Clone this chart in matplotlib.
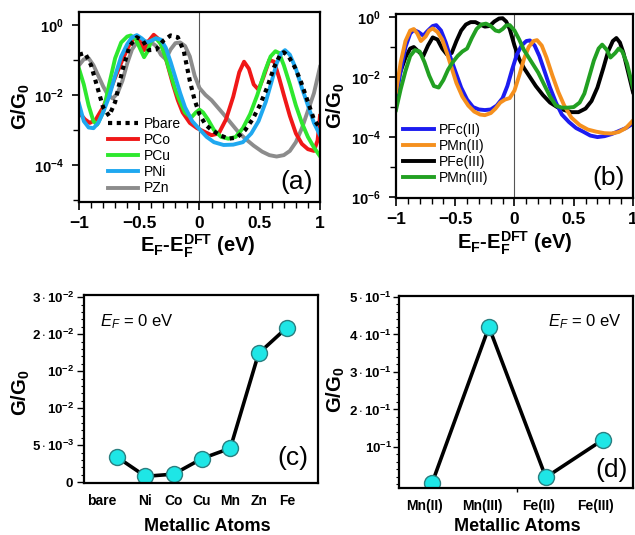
import numpy as np
import matplotlib
matplotlib.use('Agg')
import matplotlib.pyplot as plt
from matplotlib.ticker import FixedLocator, NullFormatter, AutoMinorLocator, MultipleLocator
from matplotlib.transforms import ScaledTranslation

plt.rcParams['font.family'] = ['Liberation Sans', 'DejaVu Sans']
plt.rcParams['mathtext.fontset'] = 'custom'
plt.rcParams['mathtext.rm'] = 'Liberation Sans'
plt.rcParams['mathtext.it'] = 'Liberation Sans:italic'
plt.rcParams['mathtext.bf'] = 'Liberation Sans:bold'

# ---- panel (a): log10(G/G0) vs E_F - E_F^DFT ----
x_bare = [-1.0, -0.95, -0.9, -0.85, -0.8, -0.75, -0.7, -0.64, -0.58, -0.52, -0.47, -0.42, -0.36, -0.3,
          -0.24, -0.18, -0.13, -0.08, -0.04, 0.0, 0.05, 0.1, 0.17, 0.24, 0.31, 0.38, 0.44, 0.5, 0.56,
          0.62, 0.67, 0.7, 0.74, 0.79, 0.84, 0.9, 0.95, 1.0]
lg_bare = [-0.85, -0.8, -1.15, -1.75, -2.35, -2.6, -2.2, -1.3, -0.6, -0.35, -0.45, -0.72, -0.7, -0.45,
           -0.3, -0.35, -0.75, -1.6, -2.15, -2.55, -2.85, -3.0, -3.15, -3.25, -3.22, -3.0, -2.7, -2.3,
           -1.8, -1.2, -0.85, -0.78, -0.9, -1.2, -1.6, -2.2, -2.7, -2.95]

x_co = [-1.0, -0.95, -0.91, -0.86, -0.8, -0.75, -0.7, -0.64, -0.58, -0.53, -0.49, -0.46, -0.42, -0.38,
        -0.34, -0.3, -0.26, -0.22, -0.18, -0.14, -0.08, -0.02, 0.04, 0.1, 0.16, 0.22, 0.28, 0.33, 0.37,
        0.41, 0.45, 0.49, 0.53, 0.58, 0.62, 0.66, 0.7, 0.75, 0.8, 0.85, 0.9, 0.95, 0.98, 1.0]
lg_co = [-2.5, -2.7, -2.8, -2.7, -2.35, -1.95, -1.5, -1.0, -0.55, -0.32, -0.45, -0.72, -0.45, -0.28,
         -0.4, -0.7, -1.2, -1.7, -2.15, -2.5, -2.8, -2.95, -3.05, -3.15, -3.1, -2.7, -2.05, -1.35, -1.05,
         -1.25, -1.7, -1.85, -1.5, -1.0, -1.05, -1.5, -2.0, -2.6, -3.1, -3.4, -3.55, -3.6, -3.3, -2.6]

x_cu = [-1.0, -0.96, -0.92, -0.88, -0.85, -0.8, -0.75, -0.7, -0.65, -0.6, -0.57, -0.53, -0.49, -0.46,
        -0.43, -0.4, -0.36, -0.32, -0.28, -0.24, -0.2, -0.16, -0.12, -0.07, -0.03, 0.0, 0.03, 0.07,
        0.12, 0.18, 0.24, 0.3, 0.36, 0.42, 0.48, 0.54, 0.59, 0.63, 0.66, 0.7, 0.75, 0.8, 0.85, 0.9,
        0.95, 1.0]
lg_cu = [-1.25, -1.7, -2.3, -2.75, -2.85, -2.5, -1.7, -0.95, -0.5, -0.33, -0.3, -0.4, -0.7, -0.92,
         -0.75, -0.45, -0.38, -0.55, -0.95, -1.4, -1.85, -2.2, -2.5, -2.65, -2.5, -2.42, -2.5, -2.7,
         -3.0, -3.2, -3.25, -3.2, -2.95, -2.55, -2.0, -1.35, -0.9, -0.75, -0.8, -1.15, -1.7, -2.3,
         -2.8, -3.2, -3.5, -3.75]

x_ni = [-1.0, -0.96, -0.92, -0.88, -0.84, -0.8, -0.75, -0.7, -0.65, -0.6, -0.56, -0.52, -0.48, -0.44,
        -0.4, -0.36, -0.32, -0.28, -0.24, -0.2, -0.16, -0.12, -0.06, 0.0, 0.06, 0.12, 0.2, 0.28, 0.36,
        0.43, 0.49, 0.55, 0.6, 0.64, 0.68, 0.71, 0.75, 0.8, 0.85, 0.9, 0.95, 1.0]
lg_ni = [-2.25, -2.75, -2.93, -2.95, -2.8, -2.5, -2.05, -1.45, -0.9, -0.55, -0.35, -0.29, -0.38, -0.5,
         -0.45, -0.38, -0.42, -0.65, -1.05, -1.5, -1.95, -2.35, -2.75, -2.98, -3.2, -3.35, -3.43,
         -3.42, -3.35, -3.1, -2.75, -2.2, -1.6, -1.1, -0.8, -0.72, -0.85, -1.25, -1.8, -2.3, -2.8, -3.15]

x_zn = [-1.0, -0.96, -0.92, -0.88, -0.84, -0.8, -0.76, -0.72, -0.68, -0.64, -0.6, -0.56, -0.52, -0.48,
        -0.44, -0.4, -0.36, -0.32, -0.28, -0.24, -0.2, -0.16, -0.12, -0.08, -0.04, 0.0, 0.05, 0.1,
        0.15, 0.2, 0.26, 0.32, 0.38, 0.45, 0.52, 0.58, 0.64, 0.7, 0.75, 0.8, 0.85, 0.9, 0.95, 1.0]
lg_zn = [-1.15, -0.98, -0.95, -1.15, -1.45, -1.75, -2.0, -2.1, -1.95, -1.6, -1.1, -0.7, -0.5, -0.47,
         -0.47, -0.5, -0.6, -0.85, -0.98, -0.7, -0.52, -0.5, -0.6, -0.9, -1.45, -1.8, -2.0, -2.15,
         -2.35, -2.55, -2.8, -3.05, -3.25, -3.45, -3.62, -3.72, -3.76, -3.72, -3.6, -3.35, -2.95,
         -2.45, -1.95, -1.2]

# ---- panel (b) ----
x_fe2 = [-1.0, -0.96, -0.92, -0.88, -0.85, -0.81, -0.77, -0.73, -0.69, -0.66, -0.62, -0.58, -0.54,
         -0.5, -0.45, -0.4, -0.35, -0.3, -0.25, -0.2, -0.15, -0.1, -0.06, -0.02, 0.02, 0.06, 0.1,
         0.13, 0.17, 0.21, 0.26, 0.3, 0.35, 0.4, 0.46, 0.52, 0.58, 0.64, 0.7, 0.76, 0.82, 0.88,
         0.94, 1.0]
lg_fe2 = [-2.7, -1.8, -1.0, -0.55, -0.43, -0.5, -0.62, -0.45, -0.3, -0.27, -0.45, -0.85, -1.35, -1.8,
          -2.35, -2.75, -3.0, -3.08, -3.1, -3.08, -2.95, -2.7, -2.3, -1.75, -1.25, -0.95, -0.8, -0.78,
          -0.95, -1.3, -1.88, -2.35, -2.85, -3.25, -3.5, -3.7, -3.82, -3.95, -4.0, -3.97, -3.9, -3.8,
          -3.7, -3.55]

x_mn2 = [-1.0, -0.96, -0.92, -0.88, -0.85, -0.82, -0.79, -0.75, -0.72, -0.69, -0.65, -0.61, -0.57,
         -0.53, -0.49, -0.44, -0.39, -0.34, -0.29, -0.25, -0.2, -0.16, -0.12, -0.08, -0.04, 0.0, 0.04,
         0.08, 0.12, 0.16, 0.19, 0.23, 0.27, 0.32, 0.37, 0.42, 0.48, 0.55, 0.62, 0.69, 0.76, 0.82,
         0.88, 0.94, 1.0]
lg_mn2 = [-2.5, -1.5, -0.8, -0.45, -0.4, -0.55, -0.8, -0.65, -0.45, -0.38, -0.5, -0.75, -1.2, -1.7,
          -2.2, -2.65, -2.95, -3.15, -3.25, -3.27, -3.2, -3.05, -2.85, -2.75, -2.7, -2.45, -1.95, -1.4,
          -1.0, -0.8, -0.77, -0.95, -1.35, -1.95, -2.5, -2.95, -3.35, -3.6, -3.75, -3.82, -3.87,
          -3.88, -3.83, -3.7, -3.45]

x_fe3 = [-1.0, -0.96, -0.92, -0.88, -0.85, -0.81, -0.77, -0.73, -0.69, -0.65, -0.61, -0.57, -0.53,
         -0.49, -0.45, -0.41, -0.37, -0.33, -0.29, -0.25, -0.21, -0.17, -0.13, -0.1, -0.07, -0.04,
         0.0, 0.04, 0.08, 0.13, 0.18, 0.24, 0.3, 0.36, 0.42, 0.48, 0.54, 0.6, 0.65, 0.7, 0.75, 0.79,
         0.83, 0.86, 0.89, 0.92, 0.96, 1.0]
lg_fe3 = [-2.2, -1.8, -1.35, -1.05, -1.0, -1.15, -1.3, -0.95, -0.68, -0.75, -1.05, -1.25, -1.2, -0.8,
          -0.45, -0.25, -0.17, -0.17, -0.25, -0.32, -0.3, -0.15, -0.05, -0.04, -0.15, -0.4, -0.95,
          -1.4, -1.7, -2.0, -2.3, -2.6, -2.85, -3.0, -3.1, -3.17, -3.17, -3.05, -2.8, -2.35, -1.7,
          -1.15, -0.8, -0.7, -0.85, -1.2, -1.85, -2.5]

x_mn3 = [-1.0, -0.96, -0.92, -0.88, -0.84, -0.8, -0.76, -0.72, -0.68, -0.64, -0.6, -0.56, -0.52,
         -0.48, -0.44, -0.4, -0.36, -0.32, -0.28, -0.24, -0.2, -0.16, -0.13, -0.1, -0.07, -0.04, 0.0,
         0.04, 0.08, 0.12, 0.16, 0.2, 0.25, 0.3, 0.35, 0.4, 0.45, 0.5, 0.55, 0.59, 0.63, 0.67, 0.71,
         0.74, 0.78, 0.81, 0.85, 0.88, 0.91, 0.95, 1.0]
lg_mn3 = [-3.1, -2.4, -1.8, -1.3, -1.1, -1.15, -1.5, -1.95, -2.3, -2.35, -2.1, -1.75, -1.5, -1.3,
          -1.15, -1.05, -0.7, -0.4, -0.25, -0.22, -0.3, -0.45, -0.48, -0.4, -0.28, -0.27, -0.45,
          -0.75, -1.1, -1.35, -1.6, -1.85, -2.25, -2.65, -2.95, -3.02, -3.02, -3.0, -2.85, -2.55,
          -2.0, -1.45, -1.05, -0.92, -1.1, -1.35, -1.2, -1.05, -1.15, -1.55, -2.35]

# ---- panels (c), (d): G/G0 at E_F = 0 ----
atoms_c = ['bare', 'Ni', 'Co', 'Cu', 'Mn', 'Zn', 'Fe']
g_c = [0.0034, 0.0008, 0.0011, 0.0032, 0.0046, 0.0174, 0.0209]
atoms_d = ['Mn(II)', 'Mn(III)', 'Fe(II)', 'Fe(III)']
g_d = [0.003, 0.42, 0.019, 0.119]

e_ticks = [-1, -0.5, 0, 0.5, 1]
e_labels = ['\u22121', '\u22120.5', '0', '0.5', '1']
yc_ticks = [0, 0.005, 0.01, 0.015, 0.02, 0.025]
yc_labels = [r'$\mathbf{0}$', r'$\mathbf{5\cdot10^{-3}}$', r'$\mathbf{10^{-2}}$', r'$\mathbf{10^{-2}}$',
             r'$\mathbf{2\cdot10^{-2}}$', r'$\mathbf{3\cdot10^{-2}}$']
yd_ticks = [0.1, 0.2, 0.3, 0.4, 0.5]
yd_labels = [r'$\mathbf{10^{-1}}$', r'$\mathbf{2\cdot10^{-1}}$', r'$\mathbf{3\cdot10^{-1}}$',
             r'$\mathbf{4\cdot10^{-1}}$', r'$\mathbf{5\cdot10^{-1}}$']

fig = plt.figure(figsize=(6.35, 5.35), dpi=100)
ax_a = fig.add_axes([0.1244, 0.6224, 0.3795, 0.3551])
ax_b = fig.add_axes([0.6236, 0.6299, 0.3732, 0.3439])
ax_c = fig.add_axes([0.1323, 0.0972, 0.3685, 0.3514])
ax_d = fig.add_axes([0.6283, 0.0879, 0.3685, 0.3589])

for ax in (ax_a, ax_b, ax_c, ax_d):
    for s in ax.spines.values():
        s.set_linewidth(1.6)


def log_panel(ax, ymin, ymax, majors, minors):
    ax.set_yscale('log')
    ax.set_xlim(-1, 1)
    ax.set_ylim(ymin, ymax)
    ax.axvline(0, color='#555555', lw=0.8, zorder=0)
    ax.set_xticks(e_ticks)
    ax.set_xticklabels(e_labels, fontsize=12.5, fontweight='bold')
    ax.xaxis.set_minor_locator(MultipleLocator(0.1))
    ax.yaxis.set_major_locator(FixedLocator(majors))
    ax.yaxis.set_minor_locator(FixedLocator(minors))
    ax.yaxis.set_minor_formatter(NullFormatter())
    ax.set_yticklabels([r'10$^{\mathbf{%d}}$' % int(round(np.log10(v))) for v in majors],
                       fontsize=10.5, fontweight='bold')
    ax.tick_params(axis='x', which='major', direction='out', length=6, width=1.2, pad=4)
    ax.tick_params(axis='x', which='minor', direction='out', length=4, width=1.0)
    ax.tick_params(axis='y', which='major', direction='out', length=5, width=1.2, pad=6)
    ax.tick_params(axis='y', which='minor', direction='out', length=4, width=1.0)
    ax.set_xlabel(r'E$_{\mathbf{F}}$-E$_{\mathbf{F}}^{\mathbf{DFT}}$ (eV)', fontsize=14.5, fontweight='bold')
    ax.set_ylabel(r'G/G$_{\mathbf{0}}$', fontsize=14.5, fontweight='bold')


# (a)
log_panel(ax_a, 10**-5.06, 10**0.37, [1, 1e-2, 1e-4], [1e-1, 1e-3, 1e-5])
lw = 2.8
l_zn, = ax_a.plot(x_zn, 10**np.array(lg_zn), color='#8c8c8c', lw=lw, label='PZn')
l_co, = ax_a.plot(x_co, 10**np.array(lg_co), color='#f01818', lw=lw, label='PCo')
l_cu, = ax_a.plot(x_cu, 10**np.array(lg_cu), color='#2ee82e', lw=lw, label='PCu')
l_ni, = ax_a.plot(x_ni, 10**np.array(lg_ni), color='#1fa8f0', lw=lw, label='PNi')
l_bare, = ax_a.plot(x_bare, 10**np.array(lg_bare), color='black', lw=3.0, ls=(0, (1, 1.1)), label='Pbare')
ax_a.legend(handles=[l_bare, l_co, l_cu, l_ni, l_zn], loc='lower left', bbox_to_anchor=(0.12, 0.035),
            frameon=False, fontsize=10, handlelength=2.2, handletextpad=0.4, labelspacing=0.15,
            borderpad=0, borderaxespad=0)
ax_a.text(0.97, 0.105, '(a)', transform=ax_a.transAxes, ha='right', va='center', fontsize=19)
ax_a.yaxis.set_label_coords(-0.195, 0.5)
ax_a.xaxis.set_label_coords(0.494, -0.163)

# (b)
log_panel(ax_b, 10**-6.03, 10**0.1, [1, 1e-2, 1e-4, 1e-6], [1e-1, 1e-3, 1e-5])
l_fe3, = ax_b.plot(x_fe3, 10**np.array(lg_fe3), color='black', lw=lw, label='PFe(III)')
l_fe2, = ax_b.plot(x_fe2, 10**np.array(lg_fe2), color='#1c1cf0', lw=lw, label='PFc(II)')
l_mn2, = ax_b.plot(x_mn2, 10**np.array(lg_mn2), color='#f5901e', lw=lw, label='PMn(II)')
l_mn3, = ax_b.plot(x_mn3, 10**np.array(lg_mn3), color='#22a022', lw=lw, label='PMn(III)')
ax_b.legend(handles=[l_fe2, l_mn2, l_fe3, l_mn3], loc='lower left', bbox_to_anchor=(0.03, 0.07),
            frameon=False, fontsize=10, handlelength=2.2, handletextpad=0.4, labelspacing=0.15,
            borderpad=0, borderaxespad=0)
ax_b.text(0.966, 0.109, '(b)', transform=ax_b.transAxes, ha='right', va='center', fontsize=19)
ax_b.yaxis.set_label_coords(-0.207, 0.5)
ax_b.xaxis.set_label_coords(0.5, -0.174)

# (c)
xc = np.arange(len(atoms_c))
ax_c.plot(xc, g_c, color='black', lw=2.6, marker='o', ms=11.5, mfc='#1ee6e6', mec='#2a7f80', mew=1.0)
ax_c.set_xlim(-1.17, 7.1)
ax_c.set_ylim(-0.0001, 0.0253)
ax_c.set_xticks(xc)
ax_c.set_xticklabels(atoms_c, fontsize=10, fontweight='bold')
ax_c.set_yticks(yc_ticks)
ax_c.set_yticklabels(yc_labels, fontsize=9.5)
ax_c.yaxis.set_minor_locator(AutoMinorLocator(5))
ax_c.tick_params(axis='x', length=0, pad=8)
ax_c.tick_params(axis='y', which='major', direction='out', length=5, width=1.0, pad=2)
ax_c.tick_params(axis='y', which='minor', direction='out', length=2.5, width=0.8)
ax_c.get_xticklabels()[0].set_transform(ax_c.get_xticklabels()[0].get_transform()
                                        + ScaledTranslation(-0.15, 0, fig.dpi_scale_trans))
ax_c.set_xlabel('Metallic Atoms', fontsize=13, fontweight='bold')
ax_c.set_ylabel(r'G/G$_{\mathbf{0}}$', fontsize=14.5, fontweight='bold')
ax_c.yaxis.set_label_coords(-0.222, 0.48)
ax_c.xaxis.set_label_coords(0.525, -0.186)
ax_c.text(0.068, 0.856, r'$E_F$ = 0 eV', transform=ax_c.transAxes, ha='left', va='center', fontsize=12)
ax_c.text(0.957, 0.133, '(c)', transform=ax_c.transAxes, ha='right', va='center', fontsize=19)

# (d)
xd = np.arange(len(atoms_d))
ax_d.plot(xd, g_d, color='black', lw=2.6, marker='o', ms=11.5, mfc='#1ee6e6', mec='#2a7f80', mew=1.0)
ax_d.set_xlim(-0.58, 3.53)
ax_d.set_ylim(-0.0093, 0.5027)
ax_d.set_xticks(xd)
ax_d.set_xticklabels(atoms_d, fontsize=10, fontweight='bold')
ax_d.xaxis.set_minor_locator(FixedLocator([1.5]))
ax_d.set_yticks(yd_ticks)
ax_d.set_yticklabels(yd_labels, fontsize=9.5)
ax_d.yaxis.set_minor_locator(AutoMinorLocator(5))
ax_d.tick_params(axis='x', which='major', length=0, pad=8)
ax_d.tick_params(axis='x', which='minor', direction='out', length=3, width=1.0)
ax_d.tick_params(axis='y', which='major', direction='out', length=4, width=1.0, pad=1)
ax_d.tick_params(axis='y', which='minor', direction='out', length=2.5, width=0.8)
for lbl in ax_d.get_xticklabels():
    lbl.set_transform(lbl.get_transform() + ScaledTranslation(-0.07, 0, fig.dpi_scale_trans))
ax_d.set_xlabel('Metallic Atoms', fontsize=13, fontweight='bold')
ax_d.set_ylabel(r'G/G$_{\mathbf{0}}$', fontsize=14.5, fontweight='bold')
ax_d.yaxis.set_label_coords(-0.222, 0.51)
ax_d.xaxis.set_label_coords(0.504, -0.155)
ax_d.text(0.953, 0.865, r'$E_F$ = 0 eV', transform=ax_d.transAxes, ha='right', va='center', fontsize=12)
ax_d.text(0.979, 0.094, '(d)', transform=ax_d.transAxes, ha='right', va='center', fontsize=19)

fig.savefig('out.png', dpi=100)
